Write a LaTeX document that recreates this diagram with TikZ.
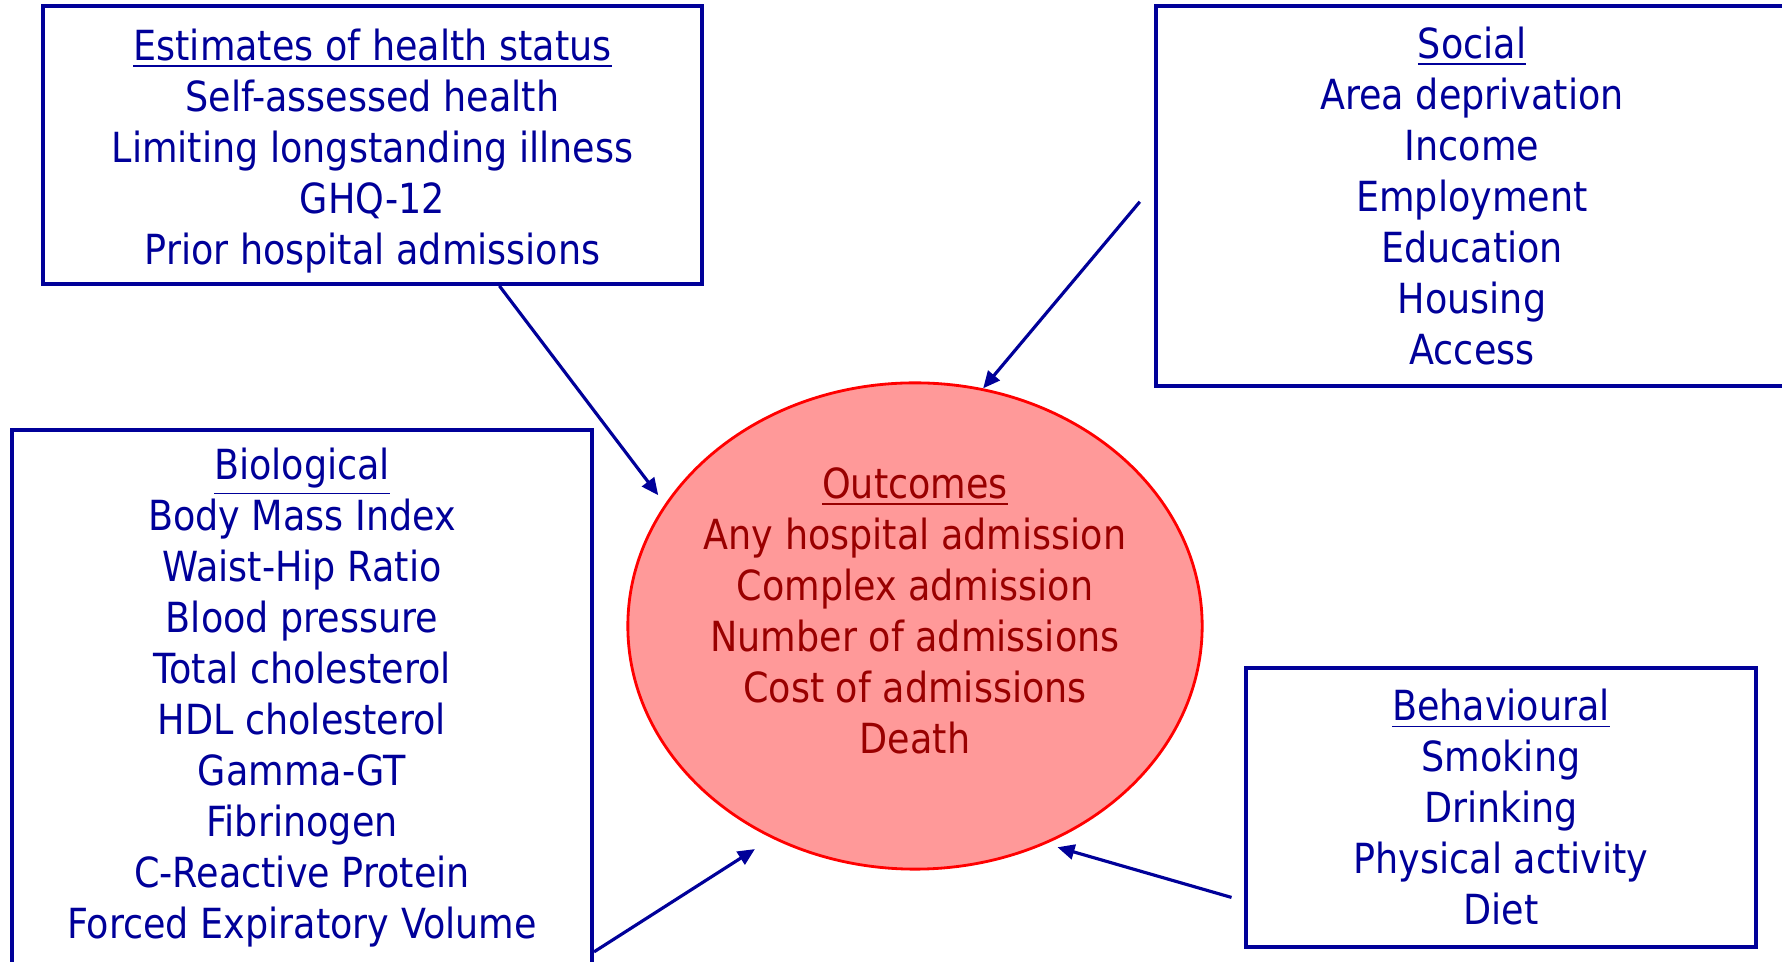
\documentclass[tikz,border=0pt]{standalone}
\usepackage{fontspec}
\setmainfont{DejaVu Sans}[FakeStretch=0.88]
\usepackage{xcolor}
\usepackage{tikz}
\usetikzlibrary{positioning,arrows.meta,shapes.geometric}

\definecolor{navy}{RGB}{0,0,153}
\definecolor{pinkfill}{RGB}{255,153,153}
\definecolor{darkred}{RGB}{153,0,0}

\begin{document}
\begin{tikzpicture}[
        x=0.01cm, y=-0.01cm,
        factor/.style={draw=navy, line width=1.05pt, text=navy, align=center, inner sep=0pt, font=\fontsize{11.8}{14.5}\selectfont},
        outcome/.style={ellipse, draw=red, line width=0.8pt, fill=pinkfill, inner sep=0pt},
        outlabel/.style={text=darkred, align=center, font=\fontsize{11.8}{14.5}\selectfont},
        arrow/.style={-{Triangle[length=0.17cm,width=0.15cm]}, draw=navy, fill=navy, line width=0.9pt}
    ]
    \useasboundingbox (0,0) rectangle (1782,962);
    \clip (0,0) rectangle (1782,962);

    % outcomes
    \node[outcome, minimum width=5.74cm, minimum height=4.86cm] (outcome) at (915,626) {};
    \node[outlabel] (outtext) at (915,611) {\underline{Outcomes}\\Any hospital admission\\Complex admission\\Number of admissions\\Cost of admissions\\Death};

    % health status
    \node[factor, minimum width=6.59cm, minimum height=2.78cm] (health) at (372.5,145) {\rule{0pt}{12.5pt}\underline{Estimates of health status}\\Self-assessed health\\Limiting longstanding illness\\GHQ-12\\Prior hospital admissions};

    % social
    \node[factor, minimum width=6.32cm, minimum height=3.80cm] (social) at (1472,196) {\underline{Social}\\Area deprivation\\Income\\Employment\\Education\\Housing\\Access};

    % biological
    \node[factor, minimum width=5.80cm, minimum height=5.36cm] (bio) at (302,698) {\underline{Biological}\\Body Mass Index\\Waist-Hip Ratio\\Blood pressure\\Total cholesterol\\HDL cholesterol\\Gamma-GT\\Fibrinogen\\C-Reactive Protein\\Forced Expiratory Volume};

    % behavioural
    \node[factor, minimum width=5.10cm, minimum height=2.79cm] (behav) at (1501,807.5) {\underline{Behavioural}\\Smoking\\Drinking\\Physical activity\\Diet};

    % arrows
    \draw[arrow, shorten >=0.11cm] (health.-48.4) -- (outcome.154.2);
    \draw[arrow, shorten <=0.22cm] (social.178.3) -- (outcome.74.3);
    \draw[arrow, shorten >=0.2cm] (bio.-41.8) -- (outcome.236.8);
    \draw[arrow, shorten <=0.13cm, shorten >=0.12cm] (behav.200) -- (outcome.301.9);

\end{tikzpicture}
\end{document}
